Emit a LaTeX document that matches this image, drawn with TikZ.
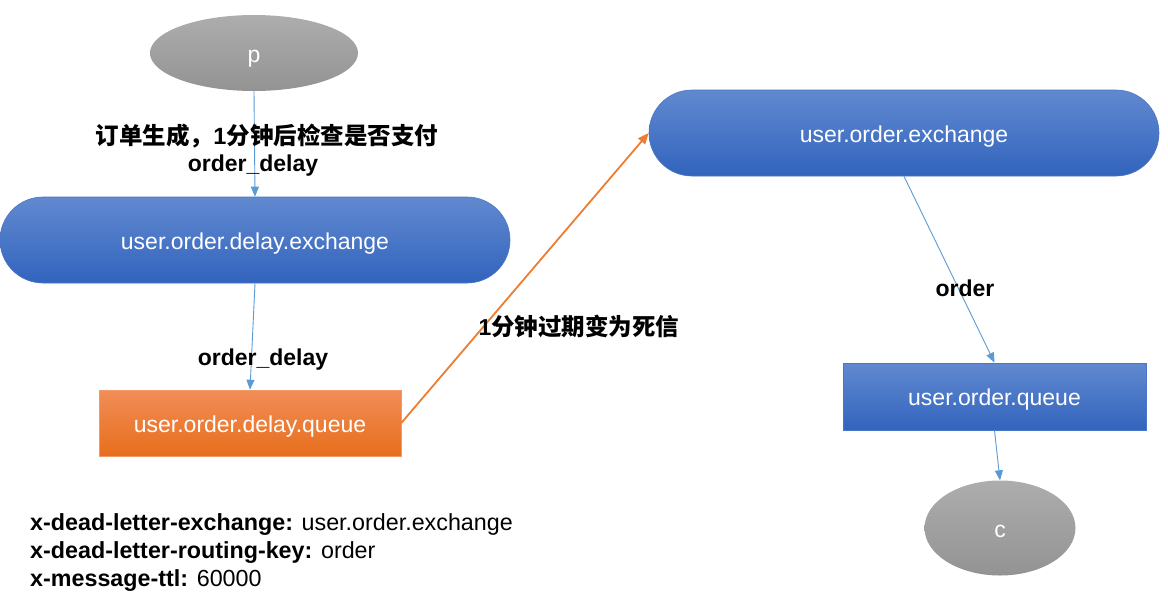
\documentclass[tikz,border=0pt]{standalone}
\usepackage{fontspec}
\setmainfont{Liberation Sans}
\newfontfamily\cjk{Noto Sans CJK SC}
\usetikzlibrary{shapes.geometric,arrows.meta}
\definecolor{btop}{HTML}{6189D0}
\definecolor{bbot}{HTML}{3264BD}
\definecolor{bline}{HTML}{4A74C4}
\definecolor{otop}{HTML}{F08D57}
\definecolor{obot}{HTML}{E86E1C}
\definecolor{oline}{HTML}{F29A66}
\definecolor{gtop}{HTML}{ADADAD}
\definecolor{gbot}{HTML}{939393}
\definecolor{conn}{HTML}{5B9BD5}
\definecolor{oconn}{HTML}{ED7D31}
\tikzset{
  txt/.style={font=\fontsize{23}{27}\selectfont, text height=20pt, text depth=2pt},
  pill/.style={txt, text=white, draw=bline, line width=0.6pt, top color=btop, bottom color=bbot,
     rounded corners=43pt, minimum width=510pt, minimum height=86pt, inner sep=0pt},
  bqueue/.style={txt, text=white, draw=bline, line width=0.6pt, top color=btop, bottom color=bbot,
     minimum width=303pt, minimum height=67pt, inner sep=0pt},
  oqueue/.style={txt, text=white, draw=oline, line width=0.6pt, top color=otop, bottom color=obot,
     minimum width=302pt, minimum height=66pt, inner sep=0pt},
  gell/.style={ellipse, txt, text=white, draw=none, top color=gtop, bottom color=gbot, inner sep=0pt},
  lbl/.style={font=\fontsize{23}{27}\selectfont\bfseries, text=black, inner sep=0pt, text height=20pt, text depth=2pt},
  attr/.style={anchor=west, inner sep=0pt, font=\fontsize{23.3}{28}\selectfont, text height=20pt, text depth=2pt},
  arr/.style={draw=conn, line width=0.9pt, -{Triangle[length=10pt,width=8pt]}},
  oarr/.style={draw=oconn, line width=1.8pt, -{Triangle[length=11pt,width=9pt]}},
}
\begin{document}
\begin{tikzpicture}[x=1pt,y=-1pt]
\useasboundingbox[fill=white] (0,0) rectangle (1168,595);
\node[gell, minimum width=208pt, minimum height=76pt] (p) at (254,53) {p};
\node[pill] (ex1) at (255,240) {user.order.delay.exchange};
\node[oqueue] (q1) at (250,423) {user.order.delay.queue};
\node[pill] (ex2) at (904,133) {user.order.exchange};
\node[bqueue] (q2) at (994.5,396.5) {user.order.queue};
\node[gell, minimum width=151pt, minimum height=95pt] (c) at (1000,528) {c};

\draw[arr] (p.south) -- (ex1.north);
\draw[arr] (ex1.south) -- (q1.north);
\draw[oarr] (q1.east) -- (ex2.west);
\draw[arr] (ex2.south) -- (q2.north);
\draw[arr] (q2.south) -- (c.north);

\node[lbl] (l1) at (267,135) {\cjk\fontsize{23.5}{27}\selectfont 订单生成，{\rmfamily 1}分钟后检查是否支付};
\node[lbl] (l2) at (253,162) {order\_delay};
\node[lbl] (l3) at (263,356) {order\_delay};
\node[lbl] (l4) at (579,326) {{\rmfamily 1}\cjk\fontsize{23.5}{27}\selectfont 分钟过期变为死信};
\node[lbl] (l5) at (965,287) {order};

\node[attr] (a1) at (30,521) {\textbf{x-dead-letter-exchange:} user.order.exchange};
\node[attr] (a2) at (30,549) {\textbf{x-dead-letter-routing-key:} order};
\node[attr] (a3) at (30,577) {\textbf{x-message-ttl:} 60000};
\end{tikzpicture}
\end{document}
